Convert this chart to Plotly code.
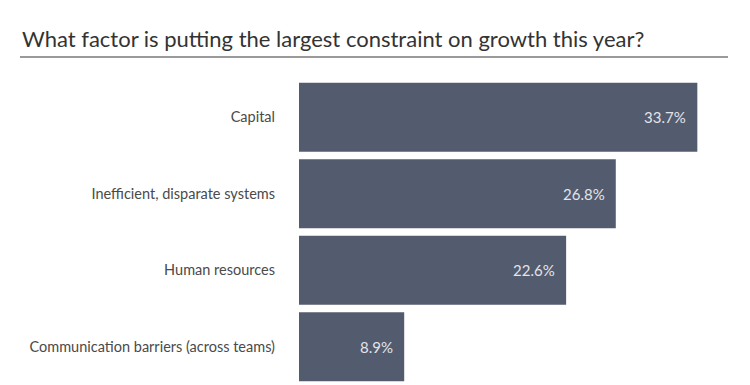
import plotly.graph_objects as go

categories = ["Capital", "Inefficient, disparate systems", "Human resources", "Communication barriers (across teams)"]
values = [33.7, 26.8, 22.6, 8.9]
value_labels = ["33.7%", "26.8%", "22.6%", "8.9%"]
title_text = "What factor is putting the largest constraint on growth this year?"

BAR = "#535b6f"
PW, PH = 429, 306  # plot area size in px

fig = go.Figure(go.Bar(
    x=values, y=categories, orientation="h",
    marker=dict(color=BAR, line=dict(width=0)),
    hoverinfo="skip",
))

for c, v, t in zip(categories, values, value_labels):
    fig.add_annotation(x=v, y=c, text=t, xanchor="right", yanchor="middle",
                       xshift=-9, showarrow=False,
                       font=dict(family="Lato", size=15, color="#e2e4e8"))

fig.add_annotation(xref="paper", yref="paper", x=(20-299)/PW, y=1, yshift=25,
                   text=title_text, xanchor="left", yanchor="bottom", showarrow=False,
                   font=dict(family="Lato", size=22, color="#333333"))

fig.add_shape(type="line", xref="paper", yref="paper",
              x0=(20-299)/PW, x1=1, y0=1 + 22/PH, y1=1 + 22/PH,
              line=dict(color="#9a9a9a", width=2))

# page body has an 8px margin; figure is sized to fill the remaining window
fig.update_layout(
    width=742, height=377,
    margin=dict(l=291, r=22, t=71, b=0),
    paper_bgcolor="white", plot_bgcolor="white",
    bargap=0.1, showlegend=False,
    xaxis=dict(range=[0, PW/11.82], visible=False, fixedrange=True),
    yaxis=dict(categoryorder="array", categoryarray=categories[::-1],
               showgrid=False, zeroline=False, showline=False, ticks="",
               ticklabelstandoff=23,
               tickfont=dict(family="Lato", size=14.5, color="#4a4a4a")),
)

fig.write_html("out.html", config={"displayModeBar": False})
